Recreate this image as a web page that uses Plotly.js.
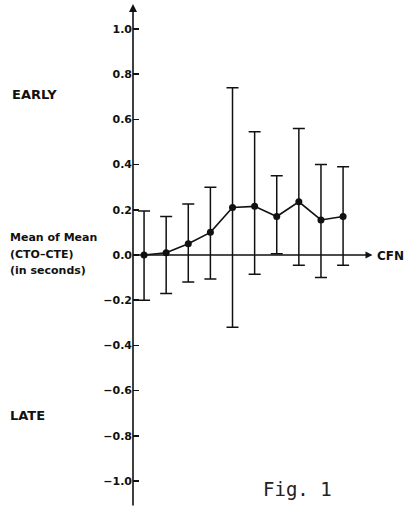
<!DOCTYPE html>
<html><head><meta charset="utf-8">
<script src="https://cdn.plot.ly/plotly-3.0.1.min.js"></script>
<style>html,body{margin:0;padding:0;background:#fff;}#chart{width:405px;height:507px;}</style>
</head><body><div id="chart"></div>
<script>
// Data
const cfn = [1, 2, 3, 4, 5, 6, 7, 8, 9, 10];
const meanOfMean = [0.0, 0.01, 0.05, 0.10, 0.21, 0.215, 0.17, 0.235, 0.155, 0.17];
const upperEnd = [0.195, 0.17, 0.225, 0.30, 0.74, 0.545, 0.35, 0.56, 0.40, 0.39];
const lowerEnd = [-0.20, -0.17, -0.12, -0.106, -0.32, -0.085, 0.005, -0.045, -0.10, -0.045];
const yTickVals = [1.0, 0.8, 0.6, 0.4, 0.2, 0.0, -0.2, -0.4, -0.6, -0.8, -1.0];
const yTickText = ["1.0", "0.8", "0.6", "0.4", "0.2", "0.0", "\u22120.2", "\u22120.4", "\u22120.6", "\u22120.8", "\u22121.0"];

const errPlus = meanOfMean.map((m, i) => upperEnd[i] - m);
const errMinus = meanOfMean.map((m, i) => m - lowerEnd[i]);

const W = 405, H = 507, L = 133;
const px = x => (x - L) / (W - L);
const py = y => 1 - y / H;
const fam = "DejaVu Sans, Liberation Sans, Arial, sans-serif";
const tickFont = {family: fam, size: 11, color: "#111", weight: "bold"};
const bigFont = {family: fam, size: 13, color: "#111", weight: "bold"};
const cfnFont = {family: fam, size: 12, color: "#111", weight: "bold"};
const smallFont = {family: fam, size: 11, color: "#111", weight: "bold"};

const trace = {
  x: cfn, y: meanOfMean, type: "scatter", mode: "lines+markers",
  line: {color: "#111", width: 1.6},
  marker: {color: "#111", size: 7},
  error_y: {type: "data", symmetric: false, array: errPlus, arrayminus: errMinus,
            color: "#111", thickness: 1.5, width: 6},
  cliponaxis: false, hoverinfo: "skip"
};

const layout = {
  width: W, height: H,
  margin: {l: L, r: 0, t: 0, b: 0, pad: 0},
  paper_bgcolor: "#fff", plot_bgcolor: "#fff",
  showlegend: false,
  xaxis: {range: [0.5, 12.8], showgrid: false, zeroline: false, showline: false,
          showticklabels: false, ticks: ""},
  yaxis: {range: [-1.115, 1.128], showgrid: false, zeroline: false, showline: false,
          tickmode: "array", tickvals: yTickVals, ticktext: yTickText,
          ticks: "inside", ticklen: 6, tickwidth: 1.5, tickcolor: "#111",
          tickfont: tickFont, ticklabelstandoff: 0},
  annotations: [
    {x: 0.5, y: 1.11, ax: 0.5, ay: -1.115, xref: "x", yref: "y", axref: "x", ayref: "y",
     text: "", showarrow: true, arrowhead: 2, arrowsize: 1, arrowwidth: 1.6, arrowcolor: "#111"},
    {x: 11.33, y: 0, ax: 0.5, ay: 0, xref: "x", yref: "y", axref: "x", ayref: "y",
     text: "", showarrow: true, arrowhead: 2, arrowsize: 1, arrowwidth: 1.4, arrowcolor: "#111"},
    {x: px(375), y: py(256), xref: "paper", yref: "paper", xanchor: "left", yanchor: "middle",
     text: "CFN", showarrow: false, font: cfnFont},
    {x: px(10), y: py(94), xref: "paper", yref: "paper", xanchor: "left", yanchor: "middle",
     text: "EARLY", showarrow: false, font: bigFont},
    {x: px(8), y: py(238), xref: "paper", yref: "paper", xanchor: "left", yanchor: "middle",
     text: "Mean of Mean", showarrow: false, font: smallFont},
    {x: px(8), y: py(254), xref: "paper", yref: "paper", xanchor: "left", yanchor: "middle",
     text: "(CTO\u2013CTE)", showarrow: false, font: smallFont},
    {x: px(8), y: py(270), xref: "paper", yref: "paper", xanchor: "left", yanchor: "middle",
     text: "(in seconds)", showarrow: false, font: smallFont},
    {x: px(8), y: py(415), xref: "paper", yref: "paper", xanchor: "left", yanchor: "middle",
     text: "LATE", showarrow: false, font: bigFont},
    {x: px(297), y: py(489), xref: "paper", yref: "paper", xanchor: "center", yanchor: "middle",
     text: "Fig. 1", showarrow: false,
     font: {family: "DejaVu Sans Mono, Liberation Mono, monospace", size: 19, color: "#222"}}
  ]
};

Plotly.newPlot("chart", [trace], layout, {staticPlot: true, displayModeBar: false});
</script>
</body></html>
